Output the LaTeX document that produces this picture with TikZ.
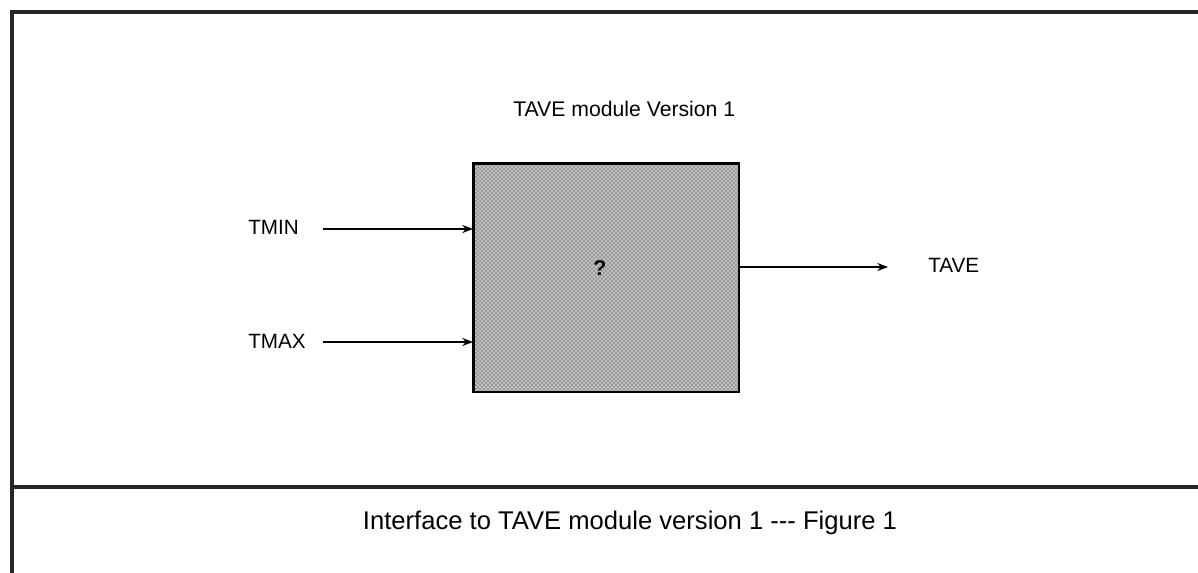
\documentclass[tikz,border=0pt]{standalone}
\usepackage{fontspec}
\setmainfont{Liberation Sans}[Ligatures=NoCommon]
\usetikzlibrary{arrows.meta,patterns}
\begin{document}
\begin{tikzpicture}[x=0.75pt,y=-0.75pt,
  lbl/.style={font=\fontsize{15.5}{18}\selectfont, inner sep=0pt},
  flow/.style={line width=1.3pt, -{Stealth[length=8pt,width=6pt]}},
  frame/.style={line width=3pt, black!85}]
\useasboundingbox (0,0) rectangle (1198,573);
% frame
\draw[frame] (1198,12) -- (12,12) -- (12,573);
\draw[frame] (12,487) -- (1198,487);
% module box
\node[draw=black, line width=1.2pt, fill=gray!50, minimum width=265*0.75pt, minimum height=228*0.75pt, inner sep=0pt, anchor=north west] (box) at (473,163) {};
\fill[pattern=crosshatch dots, pattern color=gray!25!black] (box.south west) rectangle (box.north east);
\draw[line width=1.2pt] (box.south west) rectangle (box.north east);
\node[lbl, font=\fontsize{16}{18}\selectfont\bfseries] (q) at (600,268) {?};
% labels
\node[lbl, font=\fontsize{15.9}{18}\selectfont, anchor=west] (title) at (513,109) {TAVE module Version 1};
\node[lbl, anchor=west] (tmin) at (248,227) {TMIN};
\node[lbl, anchor=west] (tmax) at (248,341) {TMAX};
\node[lbl, anchor=west] (tave) at (928,265) {TAVE};
\node[lbl, font=\fontsize{19.2}{22}\selectfont] (cap) at (630,523) {Interface to TAVE module version 1 {-}{-}{-} Figure 1};
% connectors
\coordinate (s1) at (323,229);
\coordinate (s2) at (323,342);
\coordinate (e3) at (888,267);
\draw[flow] (s1) -- (box.west |- s1);
\draw[flow] (s2) -- (box.west |- s2);
\draw[flow] (box.east |- e3) -- (e3);
\end{tikzpicture}
\end{document}
